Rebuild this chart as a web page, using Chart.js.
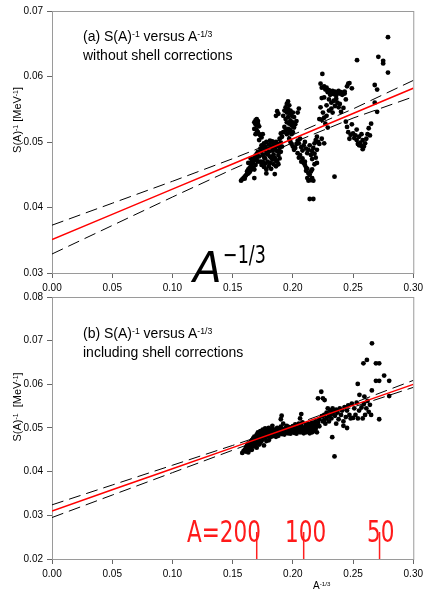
<!DOCTYPE html>
<html>
<head>
<meta charset="utf-8">
<script src="https://cdn.jsdelivr.net/npm/chart.js@4/dist/chart.umd.min.js"></script>
<style>
  body { margin:0; background:#fff; }
  #wrap { position:relative; width:427px; height:592px; overflow:hidden; font-family:"Liberation Sans", Arial, sans-serif; }
  canvas { position:absolute; left:0; }
  .lbl { position:absolute; white-space:nowrap; color:#000; }
  .sup { font-size:62%; position:relative; top:-0.5em; }
  .note { font-size:14px; line-height:16.5px; }
  .ytitle { font-size:11px; transform-origin:center; transform:translate(-50%,-50%) rotate(-90deg); }
  .big { font-family:"DejaVu Sans", sans-serif; line-height:1; }
  .red { font-family:"DejaVu Sans", sans-serif; color:#ff1a1a; font-size:30px; line-height:1; transform:scaleX(0.72); transform-origin:left top; }
</style>
</head>
<body>
<div id="wrap">
  <canvas id="top" width="427" height="300" style="top:0"></canvas>
  <canvas id="bot" width="427" height="307" style="top:285px"></canvas>

  <div class="lbl note" style="left:83px; top:28px">(a) S(A)<span class="sup">-1</span> versus A<span class="sup">-1/3</span><br>without shell corrections</div>
  <div class="lbl note" style="left:83px; top:325px">(b) S(A)<span class="sup">-1</span> versus A<span class="sup">-1/3</span><br>including shell corrections</div>

  <div class="lbl ytitle" style="left:17px; top:120px">S(A)<span class="sup">-1</span> [MeV<span class="sup">-1</span>]</div>
  <div class="lbl ytitle" style="left:17px; top:407px">S(A)<span class="sup">-1</span>&nbsp; [MeV<span class="sup">-1</span>]</div>

  <div class="lbl" style="left:313px; top:580px; font-size:10px">A<span class="sup">-1/3</span></div>

  <div class="lbl big" style="left:193px; top:247px; font-size:42px; font-style:italic">A</div>
  <div class="lbl big" style="left:223px; top:242px; font-size:25px; transform:scaleX(0.7); transform-origin:left top">−1/3</div>

  <div class="lbl red" style="left:187px; top:517px">A=200</div>
  <div class="lbl red" style="left:285px; top:517px">100</div>
  <div class="lbl red" style="left:367px; top:517px">50</div>
</div>
<script>
// fit lines and confidence bands
const fitX = [0, 0.05, 0.10, 0.15, 0.20, 0.25, 0.30];
const topFit   = [0.0351, 0.03895, 0.0428, 0.04665, 0.0505, 0.05435, 0.0582];
const topUpper = [0.0373, 0.04065, 0.0440, 0.04745, 0.0511, 0.05505, 0.0594];
const topLower = [0.0329, 0.03725, 0.0416, 0.04585, 0.0499, 0.05365, 0.0569];
const botFit   = [0.0310, 0.03584, 0.04067, 0.04551, 0.05034, 0.05518, 0.0600];
const botUpper = [0.0324, 0.03694, 0.04147, 0.04601, 0.05064, 0.05568, 0.0609];
const botLower = [0.0295, 0.03464, 0.03977, 0.04491, 0.04994, 0.05478, 0.0593];

// A = 200, 100, 50 markers on the lower panel
const markX = [0.170, 0.209, 0.272];
const markTop = 0.0262;

// (a) without shell corrections
const topPoints = [
  [0.157,0.0441],[0.158,0.0443],[0.159,0.0445],[0.160,0.0447],[0.160,0.0444],[0.161,0.0449],[0.162,0.0451],[0.162,0.0455],
  [0.163,0.0452],[0.163,0.0458],[0.164,0.0460],[0.164,0.0454],[0.165,0.0463],[0.165,0.0457],[0.166,0.0466],[0.166,0.0470],
  [0.167,0.0461],[0.167,0.0468],[0.168,0.0472],[0.168,0.0476],[0.169,0.0465],[0.169,0.0479],[0.170,0.0474],[0.170,0.0482],
  [0.171,0.0470],[0.171,0.0485],[0.172,0.0478],[0.165,0.0475],[0.163,0.0468],[0.168,0.0458],[0.168,0.0445],
  [0.168,0.0530],[0.169,0.0533],[0.170,0.0535],[0.171,0.0532],[0.169,0.0527],[0.170,0.0525],[0.171,0.0528],[0.172,0.0524],
  [0.168,0.0520],[0.170,0.0518],[0.171,0.0515],[0.172,0.0512],[0.173,0.0510],[0.174,0.0507],[0.169,0.0512],[0.172,0.0503],[0.175,0.0512],
  [0.173,0.0490],[0.174,0.0485],[0.174,0.0495],[0.175,0.0480],[0.175,0.0492],[0.176,0.0488],[0.176,0.0498],[0.177,0.0475],
  [0.177,0.0493],[0.178,0.0483],[0.178,0.0500],[0.179,0.0490],[0.179,0.0470],[0.180,0.0496],[0.180,0.0485],[0.181,0.0502],
  [0.181,0.0478],[0.182,0.0492],[0.182,0.0499],[0.183,0.0487],[0.183,0.0501],[0.184,0.0495],[0.184,0.0481],[0.185,0.0498],
  [0.185,0.0490],[0.186,0.0500],[0.186,0.0472],[0.187,0.0494],[0.187,0.0486],[0.188,0.0497],[0.188,0.0480],[0.189,0.0491],
  [0.190,0.0499],[0.190,0.0485],[0.191,0.0493],[0.173,0.0470],[0.174,0.0465],[0.176,0.0462],[0.177,0.0467],[0.178,0.0458],
  [0.180,0.0463],[0.181,0.0468],[0.182,0.0459],[0.183,0.0473],[0.184,0.0466],[0.185,0.0476],[0.186,0.0463],[0.187,0.0470],
  [0.188,0.0466],[0.189,0.0475],[0.185,0.0451],[0.178,0.0452],[0.176,0.0477],[0.179,0.0481],[0.182,0.0476],[0.184,0.0488],[0.175,0.0470],
  [0.192,0.0540],[0.193,0.0548],[0.194,0.0553],[0.195,0.0558],[0.196,0.0562],[0.197,0.0556],[0.195,0.0545],[0.196,0.0550],
  [0.197,0.0544],[0.198,0.0548],[0.199,0.0540],[0.200,0.0545],[0.201,0.0538],[0.194,0.0535],[0.195,0.0530],[0.196,0.0538],
  [0.197,0.0528],[0.198,0.0533],[0.199,0.0525],[0.200,0.0530],[0.201,0.0522],[0.202,0.0527],[0.203,0.0532],[0.204,0.0545],
  [0.205,0.0551],[0.193,0.0523],[0.192,0.0515],[0.191,0.0508],[0.190,0.0513],[0.189,0.0505],[0.194,0.0518],[0.195,0.0512],
  [0.196,0.0520],[0.197,0.0515],[0.198,0.0518],[0.199,0.0512],[0.200,0.0515],[0.188,0.0543],[0.187,0.0547],[0.186,0.0540],
  [0.197,0.0505],[0.198,0.0500],[0.199,0.0497],[0.200,0.0493],[0.201,0.0488],[0.202,0.0491],[0.203,0.0497],[0.204,0.0502],
  [0.205,0.0498],[0.206,0.0505],[0.207,0.0492],[0.208,0.0487],[0.209,0.0495],[0.210,0.0500],[0.211,0.0490],[0.212,0.0483],
  [0.213,0.0488],[0.214,0.0495],[0.215,0.0480],[0.216,0.0486],[0.217,0.0491],[0.218,0.0498],[0.219,0.0503],[0.220,0.0508],
  [0.221,0.0500],[0.218,0.0482],[0.219,0.0476],[0.220,0.0488],[0.216,0.0474],[0.204,0.0483],[0.205,0.0476],[0.206,0.0480],
  [0.207,0.0470],[0.208,0.0475],
  [0.209,0.0468],[0.210,0.0465],[0.211,0.0461],[0.211,0.0456],[0.212,0.0459],[0.213,0.0452],[0.214,0.0450],[0.212,0.0445],
  [0.213,0.0441],[0.215,0.0442],[0.216,0.0445],[0.217,0.0441],[0.214,0.0413],[0.217,0.0413],[0.210,0.0470],[0.215,0.0455],
  [0.216,0.0458],[0.218,0.0466],[0.220,0.0468],
  [0.2245,0.0604],[0.223,0.0589],[0.224,0.0583],[0.226,0.0585],[0.227,0.0580],[0.228,0.0583],[0.229,0.0576],[0.230,0.0579],
  [0.231,0.0572],[0.232,0.0575],[0.233,0.0578],[0.234,0.0573],[0.235,0.0577],[0.236,0.0571],[0.237,0.0575],[0.238,0.0578],
  [0.239,0.0574],[0.240,0.0576],[0.241,0.0572],[0.236,0.0566],[0.234,0.0563],[0.232,0.0560],[0.230,0.0565],[0.228,0.0556],
  [0.226,0.0568],[0.224,0.0567],[0.223,0.0553],[0.225,0.0545],[0.226,0.0537],[0.224,0.0534],[0.222,0.0535],[0.228,0.0540],
  [0.230,0.0548],[0.232,0.0551],[0.235,0.0555],[0.237,0.0560],[0.238,0.0553],[0.240,0.0546],[0.242,0.0552],[0.243,0.0574],
  [0.244,0.0565],[0.245,0.0585],[0.246,0.0589],[0.247,0.0590],[0.249,0.0582],[0.243,0.0577],[0.239,0.0558],[0.233,0.0545],
  [0.227,0.0528],[0.229,0.0522],[0.226,0.0498],[0.224,0.0505],[0.222,0.0497],
  [0.244,0.0531],[0.245,0.0523],[0.246,0.0515],[0.247,0.0505],[0.248,0.0511],[0.250,0.0513],[0.251,0.0506],[0.252,0.0510],
  [0.253,0.0503],[0.254,0.0497],[0.255,0.0495],[0.256,0.0499],[0.257,0.0494],[0.258,0.0489],[0.259,0.0493],[0.260,0.0498],
  [0.261,0.0505],[0.262,0.0512],[0.263,0.0521],[0.264,0.0510],[0.255,0.0508],[0.258,0.0503],[0.265,0.0528],[0.249,0.0527],
  [0.253,0.0519],[0.257,0.0512],
  [0.2533,0.0625],[0.271,0.0630],[0.275,0.0624],[0.275,0.0620],[0.279,0.0660],[0.279,0.0606],[0.268,0.0587],[0.270,0.0580],
  [0.268,0.0560],[0.270,0.0546],[0.2346,0.0447]
];

// (b) including shell corrections
const botPoints = [
  [0.158,0.0443],[0.159,0.0447],[0.160,0.0450],[0.161,0.0446],[0.161,0.0455],[0.162,0.0452],[0.162,0.0460],[0.163,0.0457],
  [0.163,0.0465],[0.164,0.0450],[0.164,0.0462],[0.165,0.0468],[0.165,0.0456],[0.166,0.0472],[0.166,0.0460],[0.167,0.0465],
  [0.167,0.0476],[0.168,0.0470],[0.168,0.0480],[0.169,0.0462],[0.169,0.0474],[0.170,0.0485],[0.170,0.0468],[0.171,0.0478],
  [0.171,0.0490],[0.172,0.0472],[0.172,0.0483],[0.173,0.0493],[0.173,0.0466],[0.174,0.0480],[0.174,0.0488],[0.175,0.0496],
  [0.175,0.0474],[0.176,0.0484],[0.176,0.0492],[0.177,0.0478],[0.177,0.0499],[0.178,0.0487],[0.178,0.0470],[0.179,0.0494],
  [0.179,0.0482],[0.180,0.0490],[0.180,0.0500],[0.181,0.0485],[0.181,0.0478],[0.182,0.0495],[0.182,0.0488],[0.183,0.0481],
  [0.183,0.0498],[0.184,0.0490],[0.184,0.0484],[0.185,0.0496],[0.185,0.0487],[0.186,0.0480],[0.186,0.0493],[0.187,0.0500],
  [0.187,0.0486],[0.188,0.0492],[0.188,0.0482],[0.189,0.0497],[0.189,0.0488],[0.190,0.0494],[0.190,0.0503],[0.191,0.0486],
  [0.191,0.0498],[0.192,0.0491],[0.192,0.0510],[0.193,0.0495],[0.193,0.0485],[0.194,0.0500],[0.194,0.0490],[0.195,0.0493],
  [0.195,0.0505],[0.196,0.0488],[0.196,0.0497],[0.197,0.0502],[0.197,0.0492],[0.198,0.0496],[0.198,0.0487],[0.199,0.0500],
  [0.199,0.0491],[0.200,0.0494],[0.200,0.0504],[0.201,0.0489],[0.201,0.0498],[0.202,0.0493],[0.202,0.0508],[0.203,0.0497],
  [0.203,0.0487],[0.204,0.0501],[0.204,0.0492],[0.205,0.0496],[0.205,0.0510],[0.206,0.0490],[0.206,0.0500],[0.207,0.0495],
  [0.207,0.0505],[0.208,0.0490],[0.208,0.0513],[0.209,0.0498],[0.209,0.0488],[0.210,0.0502],[0.210,0.0494],[0.211,0.0508],
  [0.211,0.0490],[0.212,0.0497],[0.212,0.0503],[0.213,0.0492],[0.213,0.0510],[0.214,0.0499],[0.214,0.0488],[0.215,0.0505],
  [0.215,0.0495],[0.216,0.0490],[0.216,0.0512],[0.217,0.0500],[0.218,0.0508],[0.218,0.0493],[0.219,0.0515],[0.219,0.0498],
  [0.220,0.0505],[0.220,0.0490],[0.1907,0.0528],[0.190,0.0520],[0.207,0.0532],[0.206,0.0522],[0.183,0.0505],[0.176,0.0460],
  [0.168,0.0458],[0.163,0.0444],[0.170,0.0455],[0.172,0.0462],[0.174,0.0470],[0.177,0.0488],[0.180,0.0472],[0.166,0.0450],
  [0.221,0.0512],[0.222,0.0520],[0.222,0.0504],[0.2236,0.0583],[0.2209,0.0568],[0.225,0.0568],[0.2264,0.0564],[0.224,0.0527],
  [0.225,0.0515],[0.226,0.0530],[0.226,0.0518],[0.227,0.0510],[0.228,0.0535],[0.228,0.0522],[0.229,0.0545],[0.230,0.0528],
  [0.230,0.0515],[0.231,0.0540],[0.232,0.0532],[0.232,0.0522],[0.233,0.0545],[0.234,0.0537],[0.2327,0.0479],[0.2346,0.0435],
  [0.235,0.0528],[0.236,0.0542],[0.236,0.0510],[0.237,0.0535],[0.238,0.0520],[0.239,0.0545],[0.240,0.0530],[0.241,0.0540],
  [0.242,0.0515],[0.242,0.0505],[0.243,0.0548],[0.244,0.0525],[0.245,0.0500],[0.245,0.0540],[0.246,0.0552],[0.247,0.0530],
  [0.248,0.0522],[0.249,0.0556],[0.250,0.0523],[0.251,0.0545],[0.252,0.0530],[0.2539,0.0601],[0.253,0.0558],[0.254,0.0522],
  [0.255,0.0540],[0.2553,0.0576],[0.2594,0.0572],[0.257,0.0547],[0.258,0.0522],[0.259,0.0555],[0.260,0.0530],[0.261,0.0545],
  [0.262,0.0562],[0.263,0.0537],[0.264,0.0553],[0.265,0.0530],
  [0.2586,0.0648],[0.2615,0.0656],[0.2657,0.0694],[0.269,0.0648],[0.2717,0.0648],[0.269,0.0608],[0.2717,0.0608],[0.2758,0.0620],
  [0.280,0.0608],[0.280,0.0573],[0.2656,0.0586],[0.2717,0.0520]
];

const frame = {
  id: 'frame',
  beforeDatasetsDraw(chart) {
    const a = chart.chartArea, ctx = chart.ctx;
    ctx.save();
    ctx.strokeStyle = '#9a9a9a';
    ctx.lineWidth = 1;
    ctx.strokeRect(Math.round(a.left) + 0.5, Math.round(a.top) + 0.5, a.right - a.left, a.bottom - a.top);
    ctx.restore();
  }
};

function line(xs, ys, color, dash, width, order) {
  return {
    type: 'line',
    data: xs.map((x, i) => ({x: x, y: ys[i]})),
    borderColor: color,
    borderWidth: width,
    borderDash: dash,
    pointRadius: 0,
    fill: false,
    tension: 0,
    order: order
  };
}

function makePanel(id, points, fit, upper, lower, ymin, ymax, extra, padTop) {
  let canvas = document.getElementById(id);
  let datasets = [
    line(fitX, fit, '#ff0000', [], 1.5, 0),
    line(fitX, upper, '#000', [12, 6], 1, 1),
    line(fitX, lower, '#000', [12, 6], 1, 1),
    {
      type: 'scatter',
      data: points.map(p => ({x: p[0], y: p[1]})),
      backgroundColor: '#000',
      borderColor: '#000',
      pointRadius: 2.4,
      borderWidth: 0,
      order: 2
    }
  ].concat(extra);

  return new Chart(canvas.getContext('2d'), {
    type: 'scatter',
    data: { datasets: datasets },
    options: {
      responsive: false,
      animation: false,
      devicePixelRatio: 1,
      layout: { padding: { left: 0, right: 11, top: padTop, bottom: 0 } },
      plugins: { legend: { display: false }, tooltip: { enabled: false } },
      scales: {
        x: {
          type: 'linear', min: 0, max: 0.3,
          afterFit: s => { s.height = canvas.height - (padTop + 262); },
          ticks: { stepSize: 0.05, padding: 4, color: '#000', maxRotation: 0,
                   font: { family: 'Liberation Sans', size: 10 },
                   callback: v => v.toFixed(2) },
          grid: { drawOnChartArea: false, drawTicks: true, tickLength: 5, color: '#666' },
          border: { color: '#666' }
        },
        y: {
          min: ymin, max: ymax,
          afterFit: s => { s.width = 52; },
          ticks: { stepSize: 0.01, padding: 4, color: '#000',
                   font: { family: 'Liberation Sans', size: 10 },
                   callback: v => v.toFixed(2) },
          grid: { drawOnChartArea: false, drawTicks: true, tickLength: 5, color: '#666' },
          border: { color: '#666' }
        }
      }
    },
    plugins: [frame]
  });
}

makePanel('top', topPoints, topFit, topUpper, topLower, 0.03, 0.07, [], 11);

let marks = markX.map(x => line([x, x], [0.02, markTop], '#ff2020', [], 1.5, -1));
makePanel('bot', botPoints, botFit, botUpper, botLower, 0.02, 0.08, marks, 12);
</script>
</body>
</html>
